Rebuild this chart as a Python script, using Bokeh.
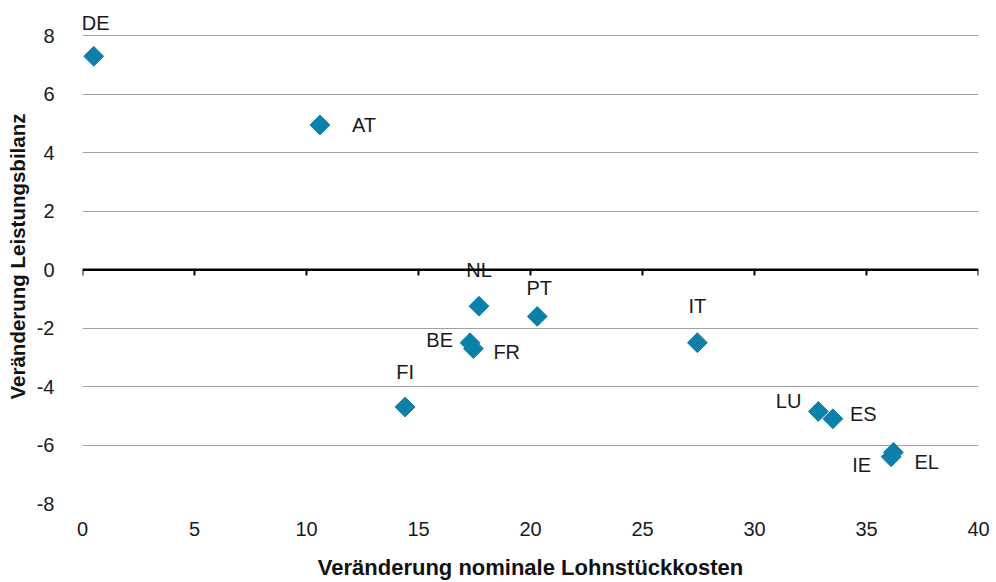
from bokeh.plotting import figure
from bokeh.models import ColumnDataSource, Range1d, FixedTicker, Span, CustomJSTickFormatter
from bokeh.core.properties import value
from bokeh.embed import file_html
from bokeh.resources import INLINE
import math

# data
countries = ["DE", "AT", "NL", "PT", "BE", "FR", "FI", "IT", "LU", "ES", "IE", "EL"]
lohnstueckkosten = [0.5, 10.6, 17.7, 20.3, 17.3, 17.45, 14.4, 27.45, 32.85, 33.5, 36.1, 36.2]
leistungsbilanz = [7.3, 4.95, -1.25, -1.6, -2.5, -2.7, -4.7, -2.5, -4.85, -5.1, -6.4, -6.25]
x_ticks = [0, 5, 10, 15, 20, 25, 30, 35, 40]
y_ticks = [-8, -6, -4, -2, 0, 2, 4, 6, 8]

# label placement (screen pixels)
label_dx = [2, 32, 0, 2, -17, 20, 0, 0, -17, 17, -20, 21]
label_dy = [-33, 0, -36, -28, -3, 3, -35, -37, -10, -5, 8, 10]
label_align = ["center", "left", "center", "center", "right", "left", "center", "center",
               "right", "left", "right", "left"]

FONT = "Liberation Sans"

p = figure(width=996, height=582, output_backend="svg", toolbar_location=None,
           x_range=Range1d(0, 40), y_range=Range1d(-8, 8.9),
           min_border_left=82, min_border_right=18, min_border_top=9, min_border_bottom=78)
p.outline_line_color = None
p.background_fill_color = "white"

p.xgrid.grid_line_color = None
p.ygrid.grid_line_color = "#a0a0a0"
p.ygrid.grid_line_width = 1.2

p.xaxis.ticker = FixedTicker(ticks=x_ticks)
p.yaxis.ticker = FixedTicker(ticks=y_ticks)
for ax in (p.xaxis, p.yaxis):
    ax.formatter = CustomJSTickFormatter(code="return tick.toString();")
    ax.axis_line_color = None
    ax.major_tick_line_color = None
    ax.minor_tick_line_color = None
    ax.major_label_text_font = FONT
    ax.major_label_text_font_size = "20px"
    ax.major_label_text_color = "#1a1a1a"
    ax.axis_label_text_font = FONT
    ax.axis_label_text_font_style = "bold"
    ax.axis_label_text_color = "#111111"
p.xaxis.axis_label_text_font_size = "22px"
p.yaxis.axis_label_text_font_size = "20.5px"
p.xaxis.major_label_standoff = 12
p.yaxis.major_label_standoff = 22
p.xaxis.axis_label = "Veränderung nominale Lohnstückkosten"
p.yaxis.axis_label = "Veränderung Leistungsbilanz"
p.xaxis.axis_label_standoff = 16
p.yaxis.axis_label_standoff = 5

# zero line with ticks
p.add_layout(Span(location=0, dimension="width", line_color="black", line_width=2.5))
p.segment(x0=x_ticks, x1=x_ticks, y0=[0] * len(x_ticks), y1=[-0.2] * len(x_ticks),
          line_color="black", line_width=2)

src = ColumnDataSource(dict(x=lohnstueckkosten, y=leistungsbilanz, name=countries,
                            dx=label_dx, dy=label_dy, align=label_align))
p.scatter("x", "y", source=src, marker="square", size=14, angle=math.pi / 4,
          fill_color="#0881ab", line_color="#0881ab")
p.text("x", "y", text="name", source=src, x_offset="dx", y_offset="dy",
       text_align="align", text_baseline="middle",
       text_font=value(FONT), text_font_size="20px", text_color="#1a1a1a")

open("out.html", "w").write(file_html(p, INLINE))
